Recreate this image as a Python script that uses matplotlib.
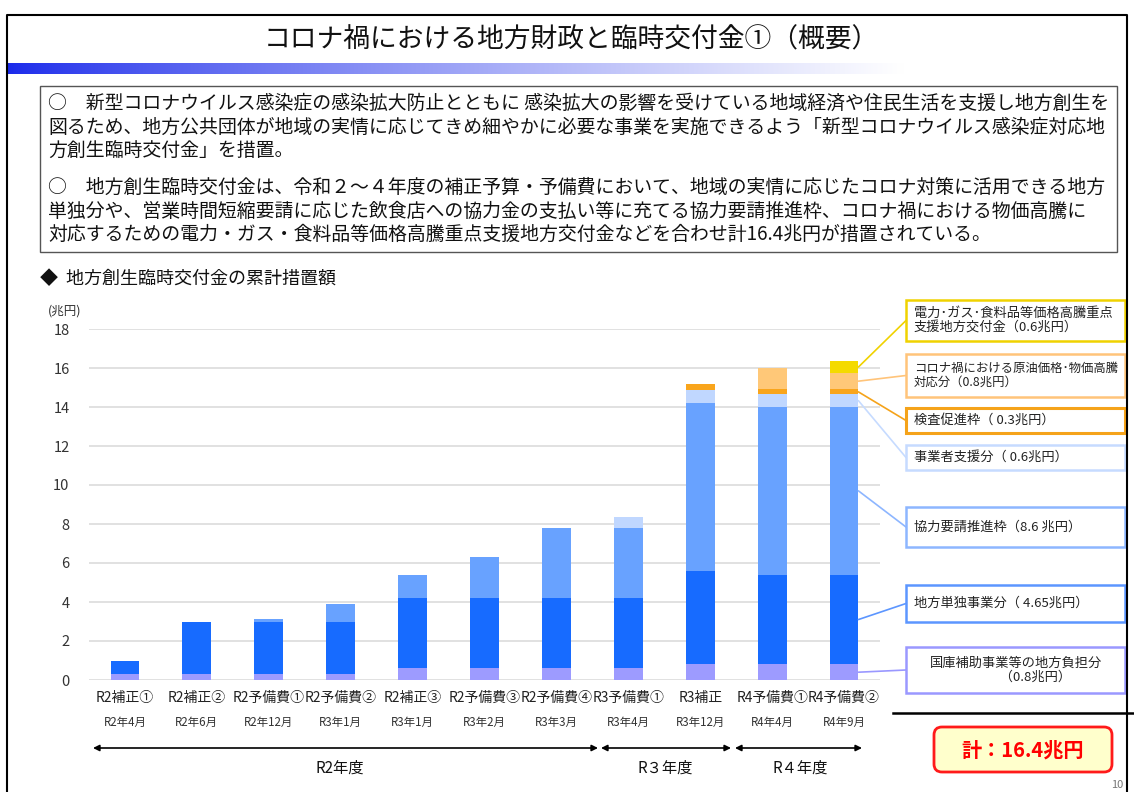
import matplotlib
matplotlib.use("Agg")
import matplotlib.pyplot as plt
import numpy as np
from matplotlib.patches import Rectangle, FancyBboxPatch, ConnectionPatch

plt.rcParams['font.family'] = ['Noto Sans CJK JP', 'DejaVu Sans']

# data (兆円)
cats = ['R2補正①', 'R2補正②', 'R2予備費①', 'R2予備費②', 'R2補正③', 'R2予備費③',
        'R2予備費④', 'R3予備費①', 'R3補正', 'R4予備費①', 'R4予備費②']
dates = ['R2年4月', 'R2年6月', 'R2年12月', 'R3年1月', 'R3年1月', 'R3年2月',
         'R3年3月', 'R3年4月', 'R3年12月', 'R4年4月', 'R4年9月']
kokko = [0.3, 0.3, 0.3, 0.3, 0.6, 0.6, 0.6, 0.6, 0.8, 0.8, 0.8]
tandoku = [0.65, 2.65, 2.65, 2.65, 3.6, 3.6, 3.6, 3.6, 4.8, 4.6, 4.6]
kyoryoku = [0, 0, 0.2, 0.95, 1.2, 2.1, 3.6, 3.6, 8.6, 8.6, 8.6]
jigyosha = [0, 0, 0, 0, 0, 0, 0, 0.55, 0.65, 0.65, 0.65]
kensa = [0, 0, 0, 0, 0, 0, 0, 0, 0.35, 0.25, 0.25]
genyu = [0, 0, 0, 0, 0, 0, 0, 0, 0, 1.1, 0.85]
denryoku = [0, 0, 0, 0, 0, 0, 0, 0, 0, 0, 0.6]

series = [kokko, tandoku, kyoryoku, jigyosha, kensa, genyu, denryoku]
colors = ['#9d9bff', '#176bff', '#68a2ff', '#c0d7ff', '#f9a51c', '#ffc878', '#f4da00']

legend_labels = [
    '国庫補助事業等の地方負担分\n　　　（0.8兆円）',
    '地方単独事業分（ 4.65兆円）',
    '協力要請推進枠（8.6 兆円）',
    '事業者支援分（ 0.6兆円）',
    '検査促進枠（ 0.3兆円）',
    'コロナ禍における原油価格･物価高騰\n対応分（0.8兆円）',
    '電力･ガス･食料品等価格高騰重点\n支援地方交付金（0.6兆円）',
]
edge_colors = ['#9a98ff', '#5c96ff', '#8db6ff', '#c6dbff', '#f5a31a', '#ffc47a', '#f0d200']
# legend boxes: top, bottom (pixels from top of the image)
box_y = [(647, 693), (585, 622), (507, 547), (445, 470), (408, 433), (354, 397), (300, 341)]

W, H = 1134, 792
fig = plt.figure(figsize=(W / 100, H / 100), dpi=100)
ax = fig.add_axes([89 / W, 1 - 680 / H, (880 - 89) / W, (680 - 329) / H])

x = np.arange(len(cats))
bw = 0.4
bottom = np.zeros(len(cats))
for vals, c in zip(series, colors):
    ax.bar(x, vals, bw, bottom=bottom, color=c, zorder=3)
    bottom += np.array(vals)

ax.set_xlim(-0.5, len(cats) - 0.5)
ax.set_ylim(0, 18)
ax.set_yticks(range(0, 19, 2))
ax.yaxis.grid(True, color='#dcdcdc', lw=1.2, zorder=0)
for s in ax.spines.values():
    s.set_visible(False)
ax.tick_params(axis='y', length=0, labelsize=10.5, labelcolor='#333333', pad=14)
ax.set_xticks(x)
ax.set_xticklabels(cats, fontsize=10, color='#222222')
ax.tick_params(axis='x', length=0, pad=8)
for i, d in enumerate(dates):
    ax.text(i, -2.2, d, ha='center', va='center', fontsize=8.3, color='#333333')

ov = fig.add_axes([0, 0, 1, 1], zorder=5)
ov.set_xlim(0, W)
ov.set_ylim(H, 0)
ov.axis('off')

# outer frame and title
ov.plot([7, 7, 1127, 1127], [792, 15, 15, 792], color='black', lw=1.5)
ov.text(571, 40, 'コロナ禍における地方財政と臨時交付金①（概要）', ha='center', va='center',
        fontsize=19.3, color='#111111')
grad = np.linspace(0, 1, 600)
t = np.clip(grad / 0.8, 0, 1) ** 0.8
blue = np.array([0.1, 0.16, 0.92])
img = blue[None, :] * (1 - t[:, None]) + np.ones(3)[None, :] * t[:, None]
ov.imshow(img[None, :, :], extent=[7, 1127, 74, 63], aspect='auto', zorder=1)

# summary box
ov.add_patch(Rectangle((40, 86), 1077, 166, fill=False, ec='#555555', lw=1))
lines = [
    (103, '○　新型コロナウイルス感染症の感染拡大防止とともに 感染拡大の影響を受けている地域経済や住民生活を支援し地方創生を'),
    (127, '図るため、地方公共団体が地域の実情に応じてきめ細やかに必要な事業を実施できるよう「新型コロナウイルス感染症対応地'),
    (151, '方創生臨時交付金」を措置。'),
    (187, '○　地方創生臨時交付金は、令和２～４年度の補正予算・予備費において、地域の実情に応じたコロナ対策に活用できる地方'),
    (211, '単独分や、営業時間短縮要請に応じた飲食店への協力金の支払い等に充てる協力要請推進枠、コロナ禍における物価高騰に'),
    (234, '対応するための電力・ガス・食料品等価格高騰重点支援地方交付金などを合わせ計16.4兆円が措置されている。'),
]
for yy, s in lines:
    ov.text(48, yy, s, ha='left', va='center', fontsize=13.6, color='#111111')

ov.text(40, 279, '◆  地方創生臨時交付金の累計措置額', ha='left', va='center', fontsize=13, color='#111111')
ov.text(48, 311, '(兆円)', ha='left', va='center', fontsize=9, color='#333333')

# legend boxes with leader lines to the last bar
last = len(cats) - 1
cum = np.cumsum([[0] + [s[last] for s in series]])
for k, (lab, ec, (y0, y1)) in enumerate(zip(legend_labels, edge_colors, box_y)):
    lw = 2.2 if k == 4 else 1.8
    fs = 8.9 if k == 5 else 9.5
    ov.add_patch(Rectangle((906, y0), 219, y1 - y0, fill=False, ec=ec, lw=lw))
    if k == 0:
        ov.text(1016, (y0 + y1) / 2, lab, ha='center', va='center', fontsize=fs,
                color='#222222', linespacing=1.1)
    else:
        ov.text(914, (y0 + y1) / 2, lab, ha='left', va='center', fontsize=fs,
                color='#222222', linespacing=1.1)
    ymid = (cum[k] + cum[k + 1]) / 2
    con = ConnectionPatch(xyA=(last + bw / 2, ymid), coordsA='data', axesA=ax,
                          xyB=(906, (y0 + y1) / 2), coordsB='data', axesB=ov,
                          color=ec, lw=1.2)
    fig.add_artist(con)

# fiscal year arrows
arrow_kw = dict(arrowstyle='<|-|>', color='black', lw=1.2, mutation_scale=9,
                shrinkA=0, shrinkB=0)
ov.annotate('', xy=(93, 748), xytext=(598, 748), arrowprops=arrow_kw)
ov.annotate('', xy=(601, 748), xytext=(731, 748), arrowprops=arrow_kw)
ov.annotate('', xy=(735, 748), xytext=(862, 748), arrowprops=arrow_kw)
ov.text(340, 768, 'R2年度', ha='center', va='center', fontsize=11, color='#111111')
ov.text(665, 768, 'R３年度', ha='center', va='center', fontsize=11, color='#111111')
ov.text(800, 768, 'R４年度', ha='center', va='center', fontsize=11, color='#111111')

# total
ov.plot([893, 1134], [713, 713], color='black', lw=1.8)
ov.add_patch(FancyBboxPatch((934, 727), 178, 45, boxstyle='round,pad=0,rounding_size=8',
                            fc='#ffffcc', ec='#ff1a1a', lw=2))
ov.text(1023, 750, '計：16.4兆円', ha='center', va='center', fontsize=14.5,
        fontweight='bold', color='#ff0000')
ov.text(1117, 785, '10', ha='center', va='center', fontsize=8, color='#777777')

fig.savefig('out.png', dpi=100)
